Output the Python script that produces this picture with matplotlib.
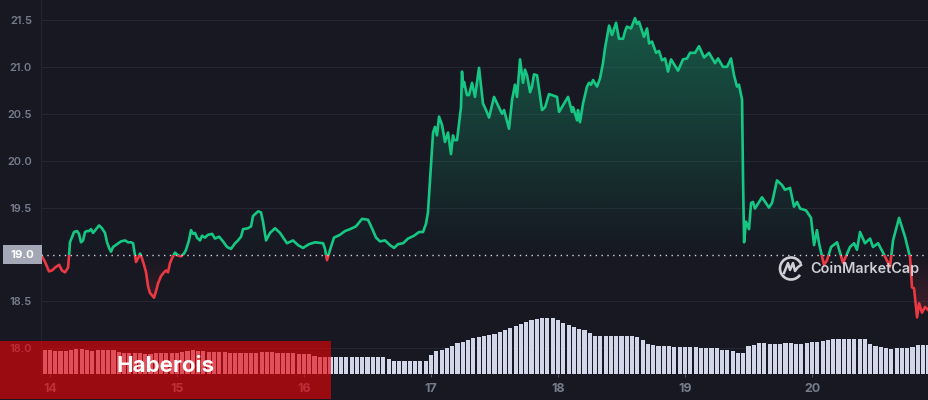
import numpy as np
import matplotlib
matplotlib.use("Agg")
import matplotlib.pyplot as plt
from matplotlib.patches import Rectangle, Arc
from matplotlib.path import Path

plt.rcParams['font.family'] = ['Inter', 'DejaVu Sans']

# ---------- data ----------
days = [13.933,13.961,13.992,14.016,14.039,14.071,14.094,14.118,14.142,14.150,14.157,14.189,14.213,14.228,14.244,14.260,14.276,14.291,14.307,14.323,14.339,14.362,14.386,14.409,14.433,14.449,14.465,14.480,14.496,14.528,14.559,14.591,14.614,14.638,14.654,14.669,14.677,14.693,14.709,14.724,14.740,14.756,14.772,14.787,14.819,14.835,14.850,14.874,14.898,14.913,14.929,14.945,14.961,14.984,15.008,15.031,15.055,15.071,15.094,15.110,15.126,15.142,15.157,15.181,15.197,15.220,15.244,15.276,15.299,15.331,15.362,15.394,15.425,15.457,15.480,15.504,15.520,15.559,15.583,15.598,15.638,15.661,15.677,15.701,15.732,15.772,15.811,15.866,15.913,15.953,15.992,16.039,16.087,16.150,16.165,16.181,16.205,16.236,16.283,16.323,16.362,16.409,16.457,16.504,16.535,16.567,16.598,16.638,16.677,16.709,16.740,16.780,16.819,16.866,16.906,16.937,16.961,16.976,16.992,17.016,17.031,17.047,17.063,17.087,17.110,17.134,17.157,17.173,17.181,17.205,17.236,17.244,17.252,17.260,17.283,17.299,17.323,17.346,17.378,17.409,17.433,17.457,17.496,17.559,17.575,17.614,17.638,17.661,17.677,17.701,17.724,17.740,17.756,17.780,17.795,17.811,17.835,17.874,17.898,17.929,17.992,18.008,18.079,18.110,18.118,18.150,18.157,18.173,18.197,18.228,18.244,18.260,18.276,18.307,18.331,18.354,18.370,18.402,18.425,18.457,18.480,18.512,18.528,18.543,18.575,18.606,18.622,18.638,18.677,18.701,18.717,18.740,18.772,18.795,18.819,18.843,18.866,18.890,18.945,18.984,19.016,19.039,19.079,19.110,19.150,19.189,19.236,19.260,19.299,19.331,19.362,19.386,19.409,19.425,19.449,19.457,19.465,19.480,19.504,19.520,19.535,19.551,19.606,19.661,19.685,19.724,19.764,19.787,19.827,19.858,19.882,19.906,19.953,19.992,20.016,20.039,20.055,20.094,20.118,20.150,20.197,20.244,20.299,20.331,20.354,20.378,20.417,20.457,20.480,20.520,20.559,20.614,20.638,20.685,20.732,20.772,20.787,20.803,20.827,20.843,20.866,20.890,20.913]
price = [18.99,18.92,18.82,18.83,18.86,18.89,18.83,18.81,18.86,18.99,19.13,19.24,19.25,19.22,19.13,19.15,19.24,19.25,19.25,19.27,19.23,19.27,19.31,19.28,19.23,19.13,19.07,19.03,19.08,19.11,19.14,19.15,19.13,19.13,19.12,18.99,18.92,18.96,19.01,18.96,18.89,18.81,18.66,18.59,18.54,18.61,18.69,18.77,18.81,18.83,18.81,18.91,18.96,19.02,18.99,18.98,19.01,19.05,19.15,19.26,19.22,19.23,19.18,19.15,19.20,19.18,19.21,19.22,19.17,19.19,19.14,19.08,19.06,19.12,19.15,19.19,19.27,19.28,19.30,19.41,19.46,19.45,19.35,19.15,19.23,19.28,19.23,19.12,19.15,19.10,19.07,19.11,19.13,19.12,19.06,18.94,19.05,19.18,19.21,19.25,19.27,19.30,19.38,19.37,19.28,19.18,19.14,19.15,19.10,19.07,19.11,19.12,19.17,19.20,19.24,19.24,19.33,19.45,19.79,20.30,20.36,20.27,20.47,20.38,20.20,20.30,20.07,20.27,20.22,20.22,20.57,20.95,20.79,20.84,20.70,20.70,20.83,20.68,20.99,20.61,20.54,20.46,20.68,20.50,20.54,20.34,20.65,20.81,20.68,21.08,20.83,20.97,20.91,20.73,20.79,20.92,20.91,20.54,20.57,20.71,20.68,20.52,20.68,20.52,20.57,20.43,20.54,20.41,20.61,20.79,20.83,20.81,20.86,20.79,20.88,21.04,21.20,21.44,21.34,21.47,21.30,21.30,21.38,21.43,21.41,21.52,21.46,21.48,21.32,21.41,21.25,21.27,21.15,21.17,21.07,21.09,20.95,21.08,20.96,21.08,21.09,21.15,21.15,21.22,21.10,21.15,21.04,21.09,21.00,21.00,21.09,20.91,20.79,20.81,20.65,19.79,19.13,19.35,19.27,19.55,19.56,19.49,19.61,19.50,19.55,19.79,19.74,19.69,19.71,19.51,19.56,19.49,19.47,19.39,19.10,19.26,19.12,18.89,18.94,19.08,19.13,18.91,19.08,19.12,19.05,19.24,19.12,19.17,19.08,19.12,19.02,18.87,19.15,19.39,19.19,18.97,18.65,18.64,18.33,18.48,18.38,18.44,18.41]
baseline = 19.0

volume = [24,24,23,23,23,24,25,25,24,23,24,24,24,24,22,21,21,21,21,20,20,21,21,21,21,21,22,23,24,23,23,22,22,22,22,21,21,21,21,21,21,22,22,22,21,21,21,21,20,20,20,18,17,17,
          17,17,17,17,17,17,17,17,17,17,17,15,13,13,13,13,13,13,13,19,23,24,26,28,31,32,34,36,37,38,39,40,42,44,46,48,50,52,54,55,56,56,56,54,51,49,47,45,44,41,38,38,38,38,38,38,38,38,37,34,30,29,28,28,28,27,27,27,27,27,26,26,26,26,24,24,23,21,21,
          28,29,31,31,30,30,30,31,31,30,30,31,32,32,33,34,35,35,35,35,35,35,35,30,28,27,26,25,26,26,26,27,29,29,29]
first_bar_day = 13.958
bars_per_day = 24

y_ticks = [18.0, 18.5, 19.5, 20.0, 20.5, 21.0, 21.5]
x_ticks = [14, 15, 16, 17, 18, 19, 20]

# ---------- colours ----------
BG = '#171822'
GRID = '#242632'
GREEN = '#16c784'
RED = '#ea3943'
LABEL = '#777c8c'
BAR = '#d1d7e8'

W, H = 929, 400
fig = plt.figure(figsize=(W/100, H/100), dpi=100, facecolor=BG)
ax = fig.add_axes([41/W, (H-374.3)/H, (W-41)/W, 374.3/H], facecolor=BG)
ax.set_zorder(1)

x0, x1 = 13.929, 20.921
y0, y1 = 17.723, 21.713

# volume on its own axis, one unit per pixel
axv = ax.twinx()
axv.set_zorder(2)
axv.patch.set_visible(False)
axv.set_ylim(0, 374.3)
axv.set_xlim(x0, x1)
bar_days = [first_bar_day + i/bars_per_day for i in range(len(volume))]
axv.bar(bar_days, volume, width=0.78/bars_per_day, color=BAR, linewidth=0, zorder=1)
axv.axis('off')

# gradient fills
def gradient_fill(color, ymin, ymax, alpha_at_min, alpha_at_max, where):
    rgba = np.zeros((256, 1, 4))
    rgba[..., :3] = matplotlib.colors.to_rgb(color)
    rgba[..., 3] = np.linspace(alpha_at_max, alpha_at_min, 256)[:, None]
    im = ax.imshow(rgba, extent=(x0, x1, ymin, ymax), aspect='auto', zorder=2, origin='upper')
    poly = ax.fill_between(days, price, baseline, where=where, interpolate=True, color='none')
    path = Path.make_compound_path(*poly.get_paths())
    im.set_clip_path(path, transform=ax.transData)

p = np.array(price)
gradient_fill(GREEN, baseline, 21.6, 0.0, 0.38, p >= baseline)
gradient_fill(RED, 18.3, baseline, 0.22, 0.0, p <= baseline)

ax.set_xlim(x0, x1)
ax.set_ylim(y0, y1)

# two coloured price lines, split at the baseline
l1, = ax.plot(days, price, color=GREEN, lw=1.9, zorder=4, solid_joinstyle='round')
l2, = ax.plot(days, price, color=RED, lw=1.9, zorder=4, solid_joinstyle='round')
l1.set_clip_path(Rectangle((x0, baseline), x1-x0, y1-baseline, transform=ax.transData))
l2.set_clip_path(Rectangle((x0, y0), x1-x0, baseline-y0, transform=ax.transData))

ax.axhline(baseline, color='#cfd4e2', lw=1.0, ls=(0, (1, 3.2)), zorder=5)

ax.set_xticks(x_ticks)
ax.set_xticklabels([str(t) for t in x_ticks], fontsize=9, fontweight='bold', color=LABEL)
ax.set_yticks(y_ticks)
ax.set_yticklabels([f'{t:.1f}' for t in y_ticks], fontsize=8, fontweight='semibold', color=LABEL)
ax.tick_params(axis='x', length=2.5, width=0.7, color='#555866', pad=3.5)
ax.tick_params(axis='y', length=0, pad=6.5)
ax.grid(axis='y', color=GRID, lw=0.8, zorder=0)
for s in ['top', 'right', 'bottom']:
    ax.spines[s].set_visible(False)
ax.spines['left'].set_color(GRID)
ax.spines['left'].set_linewidth(0.8)

# overlay in pixel coordinates
ov = fig.add_axes([0, 0, 1, 1], facecolor='none')
ov.set_zorder(10)
ov.set_xlim(0, W)
ov.set_ylim(H, 0)
ov.axis('off')

ov.add_patch(Rectangle((3.3, 245), 39, 19, color='#a4a8b6', lw=0, zorder=3))
ov.text(22.5, 254.8, '19.0', color='white', fontsize=8.2, fontweight='bold', ha='center', va='center', zorder=4)

ov.add_patch(Rectangle((0, 340.7), 331, 57.8, facecolor=(232/255, 2/255, 8/255, 0.63), lw=0, zorder=5))
ov.text(166, 366.5, 'Haberois', color='white', fontsize=16, fontweight='bold', ha='center', va='center', zorder=6)

# watermark
LOGO = '#cfcfd6'
ov.add_patch(Arc((791, 268.5), 22, 22, theta1=35, theta2=335, ec=LOGO, lw=1.9, zorder=6))
ov.plot([784, 788, 790, 793, 795, 798, 801], [273, 263, 270, 263, 271, 267, 265], color=LOGO, lw=1.8, zorder=6,
        solid_joinstyle='round')
ov.text(810, 268.5, 'CoinMarketCap', color=LOGO, fontsize=10.4, fontweight='semibold', ha='left', va='center', zorder=6)

fig.savefig('out.png', dpi=100, facecolor=BG)
